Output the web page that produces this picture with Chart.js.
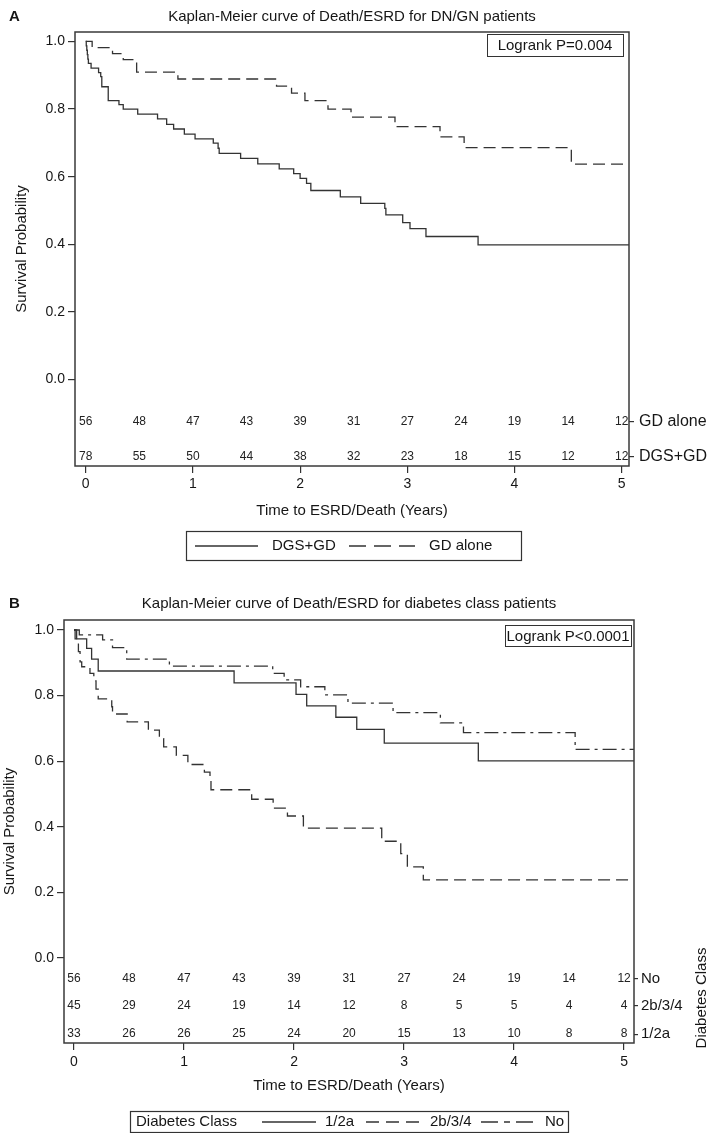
<!DOCTYPE html>
<html>
<head>
<meta charset="utf-8">
<script src="https://cdn.jsdelivr.net/npm/chart.js@4.4.0/dist/chart.umd.min.js"></script>
<style>
  html, body { margin: 0; padding: 0; background: #fff; }
  .panel { position: absolute; left: 0; width: 714px; }
  #wrapA { top: 0; height: 575px; }
  #wrapB { top: 575px; height: 558px; }
</style>
</head>
<body>
<div class="panel" id="wrapA"><canvas id="kmA"></canvas></div>
<div class="panel" id="wrapB"><canvas id="kmB"></canvas></div>
<script>
// ---- data ----
// panel A: DGS+GD (solid) vs GD alone (dashed)
const dgsT = [0, 0.005, 0.01, 0.015, 0.02, 0.025, 0.05, 0.12, 0.14, 0.15, 0.21, 0.31, 0.35, 0.485, 0.67, 0.755,
  0.82, 0.92, 1.02, 1.19, 1.235, 1.245, 1.445, 1.605, 1.805, 1.94, 2.0, 2.06, 2.10, 2.375, 2.565, 2.79, 2.80,
  2.957, 3.025, 3.174, 3.66, 5.07];
const dgsS = [1.0, 0.987, 0.974, 0.961, 0.948, 0.935, 0.921, 0.908, 0.896, 0.866, 0.825, 0.813, 0.800, 0.785,
  0.771, 0.755, 0.741, 0.726, 0.712, 0.699, 0.684, 0.669, 0.654, 0.638, 0.623, 0.609, 0.595, 0.580, 0.559,
  0.540, 0.521, 0.506, 0.487, 0.464, 0.446, 0.423, 0.398, 0.398];
const gdT = [0, 0.06, 0.25, 0.35, 0.475, 0.86, 1.78, 1.92, 2.045, 2.26, 2.475, 2.885, 3.305, 3.53, 4.53, 5.07];
const gdS = [1.0, 0.982, 0.964, 0.946, 0.909, 0.889, 0.868, 0.847, 0.825, 0.800, 0.776, 0.748, 0.718, 0.686, 0.637, 0.637];

// panel B: diabetes class 1/2a (solid), 2b/3/4 (dashed), No (dash-dot)
const c12aT = [0, 0.01, 0.115, 0.16, 0.22, 1.455, 2.018, 2.115, 2.38, 2.57, 2.82, 3.675, 5.09];
const c12aS = [1.0, 0.973, 0.944, 0.911, 0.875, 0.839, 0.804, 0.769, 0.734, 0.697, 0.655, 0.601, 0.601];
const c2bT = [0, 0.024, 0.04, 0.055, 0.07, 0.145, 0.18, 0.20, 0.22, 0.343, 0.35, 0.483, 0.676, 0.776, 0.815,
  0.93, 1.035, 1.185, 1.236, 1.245, 1.615, 1.81, 1.94, 2.085, 2.797, 2.97, 3.03, 3.175, 5.09];
const c2bS = [1.0, 0.970, 0.934, 0.903, 0.888, 0.868, 0.845, 0.820, 0.790, 0.766, 0.744, 0.720, 0.695, 0.669,
  0.644, 0.618, 0.590, 0.567, 0.543, 0.513, 0.484, 0.457, 0.433, 0.396, 0.356, 0.318, 0.278, 0.238, 0.238];
const noT = [0, 0.048, 0.26, 0.35, 0.479, 0.867, 1.806, 1.91, 2.06, 2.28, 2.49, 2.9, 3.33, 3.54, 4.555, 5.09];
const noS = [1.0, 0.985, 0.970, 0.946, 0.911, 0.890, 0.868, 0.848, 0.827, 0.802, 0.777, 0.748, 0.717, 0.687, 0.636, 0.636];

// numbers at risk, every half year
const riskTimes = [0, 0.5, 1, 1.5, 2, 2.5, 3, 3.5, 4, 4.5, 5];
const riskGdAlone = [56, 48, 47, 43, 39, 31, 27, 24, 19, 14, 12];
const riskDgsGd = [78, 55, 50, 44, 38, 32, 23, 18, 15, 12, 12];
const riskNo = [56, 48, 47, 43, 39, 31, 27, 24, 19, 14, 12];
const risk2b34 = [45, 29, 24, 19, 14, 12, 8, 5, 5, 4, 4];
const risk12a = [33, 26, 26, 25, 24, 20, 15, 13, 10, 8, 8];

const xTicks = [0, 1, 2, 3, 4, 5];
const yTicks = [0, 0.2, 0.4, 0.6, 0.8, 1.0];

// ---- drawing ----
const INK = "#333";
const TXT = "#161616";
const FONT = "'Liberation Sans', Arial, sans-serif";
Chart.defaults.font.family = FONT;
Chart.defaults.color = TXT;

const SOLID = [], DASH = [12, 6], DASHDOT = [14, 5, 3, 5];

const kmLine = (t, s, dash) => ({
  data: t.map((x, i) => ({ x, y: s[i] })),
  stepped: true, borderColor: INK, borderWidth: 1.3, borderDash: dash,
  pointRadius: 0, fill: false
});

// frame, titles, logrank box, numbers at risk and the boxed legend
const panelDecor = p => ({
  id: "panelDecor",
  afterDraw(chart) {
    const { ctx, chartArea: a, scales: { x, y } } = chart;
    ctx.save();
    ctx.setLineDash([]);
    ctx.strokeStyle = "#3a3a3a"; ctx.lineWidth = 1.5;
    ctx.strokeRect(a.left, a.top, a.right - a.left, a.bottom - a.top);

    ctx.fillStyle = TXT; ctx.textBaseline = "middle";
    ctx.font = `bold 15px ${FONT}`; ctx.textAlign = "left";
    ctx.fillText(p.letter, 9, p.titleY);
    ctx.font = `15px ${FONT}`; ctx.textAlign = "center";
    ctx.fillText(p.title, p.titleX, p.titleY);

    const b = p.logrank;
    ctx.lineWidth = 1; ctx.strokeStyle = INK;
    ctx.strokeRect(b.x + 0.5, b.y + 0.5, b.w, b.h);
    ctx.font = `15px ${FONT}`;
    ctx.fillText(b.text, b.x + b.w / 2, b.y + b.h / 2 + 1);

    ctx.font = `12px ${FONT}`; ctx.fillStyle = "#222";
    p.rows.forEach(r => r.n.forEach((n, i) =>
      ctx.fillText(n, x.getPixelForValue(riskTimes[i]), y.getPixelForValue(r.y))));

    if (p.sideTitle) {
      ctx.save();
      ctx.translate(p.sideTitle.x, p.sideTitle.y); ctx.rotate(-Math.PI / 2);
      ctx.font = `15px ${FONT}`; ctx.fillStyle = TXT;
      ctx.fillText(p.sideTitle.text, 0, 0);
      ctx.restore();
    }

    const L = p.legend;
    ctx.lineWidth = 1.2; ctx.strokeStyle = INK;
    ctx.strokeRect(L.x + 0.5, L.y + 0.5, L.w, L.h);
    const my = L.y + L.h / 2 + 0.5;
    ctx.font = `15px ${FONT}`; ctx.fillStyle = TXT; ctx.textAlign = "left";
    if (L.heading) ctx.fillText(L.heading, L.x + 6, my);
    L.items.forEach(it => {
      ctx.beginPath(); ctx.setLineDash(it.dash); ctx.lineWidth = 1.6;
      ctx.moveTo(it.x0, my); ctx.lineTo(it.x1, my); ctx.stroke();
      ctx.setLineDash([]);
      ctx.fillText(it.label, it.tx, my);
    });
    ctx.restore();
  }
});

function drawPanel(id, p) {
  const axisFont = { size: 14, family: FONT };
  const titleFont = { size: 15, family: FONT };
  new Chart(document.getElementById(id), {
    type: "line",
    data: { datasets: p.datasets },
    options: {
      responsive: true, maintainAspectRatio: false, animation: false,
      layout: { padding: { top: p.top, bottom: p.bottom, left: 0, right: 0 } },
      plugins: { legend: { display: false }, tooltip: { enabled: false } },
      scales: {
        x: {
          type: "linear", min: p.xMin, max: p.xMax,
          afterBuildTicks: s => { s.ticks = xTicks.map(v => ({ value: v })); },
          afterFit: s => { s.height = p.xH; },
          border: { display: false },
          grid: { drawOnChartArea: false, tickLength: 7, color: INK, lineWidth: 1.2 },
          ticks: { padding: p.xTickPad, font: axisFont, callback: v => v },
          title: { display: true, text: "Time to ESRD/Death (Years)", font: titleFont,
                   padding: { top: 0, bottom: 6 } }
        },
        y: {
          min: p.yMin, max: p.yMax,
          afterBuildTicks: s => { s.ticks = yTicks.map(v => ({ value: v })); },
          afterFit: s => { s.width = p.leftW; },
          border: { display: false },
          grid: { drawOnChartArea: false, tickLength: 7, color: INK, lineWidth: 1.2 },
          ticks: { padding: 3, font: axisFont, callback: v => v.toFixed(1) },
          title: { display: true, text: "Survival Probability", font: titleFont,
                   padding: { top: p.yTitlePad, bottom: 0 } }
        },
        y2: {
          position: "right", min: p.yMin, max: p.yMax,
          afterBuildTicks: s => { s.ticks = p.rows.map(r => ({ value: r.y })); },
          afterFit: s => { s.width = p.rightW; },
          border: { display: false },
          grid: { drawOnChartArea: false, tickLength: p.sideTick, color: INK, lineWidth: 1.2 },
          ticks: { padding: p.sidePad, autoSkip: false, font: { size: p.sideFont, family: FONT },
                   callback: (v, i) => p.rows[i].label }
        }
      }
    },
    plugins: [panelDecor(p)]
  });
}

drawPanel("kmA", {
  letter: "A", title: "Kaplan-Meier curve of Death/ESRD for DN/GN patients", titleX: 352, titleY: 17,
  datasets: [kmLine(dgsT, dgsS, SOLID), kmLine(gdT, gdS, DASH)],
  top: 32, bottom: 49, xH: 60, xTickPad: 3, leftW: 75, rightW: 85, yTitlePad: 13,
  sideTick: 5, sidePad: 5, sideFont: 16,
  xMin: -0.1, xMax: 5.068, yMin: -0.256, yMax: 1.028,
  rows: [{ y: -0.228, label: "DGS+GD", n: riskDgsGd }, { y: -0.126, label: "GD alone", n: riskGdAlone }],
  logrank: { x: 487, y: 34, w: 136, h: 22, text: "Logrank P=0.004" },
  legend: { x: 186, y: 531, w: 335, h: 29, items: [
    { x0: 195, x1: 258, dash: SOLID, label: "DGS+GD", tx: 272 },
    { x0: 349, x1: 415, dash: [17, 8], label: "GD alone", tx: 429 }] }
});

drawPanel("kmB", {
  letter: "B", title: "Kaplan-Meier curve of Death/ESRD for diabetes class patients", titleX: 349, titleY: 29,
  datasets: [kmLine(c12aT, c12aS, SOLID), kmLine(c2bT, c2bS, DASH), kmLine(noT, noS, DASHDOT)],
  top: 45, bottom: 32, xH: 58, xTickPad: 4, leftW: 64, rightW: 80, yTitlePad: 1,
  sideTick: 4, sidePad: 3, sideFont: 15,
  xMin: -0.091, xMax: 5.09, yMin: -0.259, yMax: 1.0305,
  rows: [{ y: -0.232, label: "1/2a", n: risk12a }, { y: -0.146, label: "2b/3/4", n: risk2b34 },
         { y: -0.064, label: "No", n: riskNo }],
  logrank: { x: 505, y: 50, w: 126, h: 21, text: "Logrank P<0.0001" },
  sideTitle: { x: 702, y: 423, text: "Diabetes Class" },
  legend: { x: 130, y: 536, w: 438, h: 21, heading: "Diabetes Class", items: [
    { x0: 262, x1: 316, dash: SOLID, label: "1/2a", tx: 325 },
    { x0: 366, x1: 419, dash: [13, 7], label: "2b/3/4", tx: 430 },
    { x0: 481, x1: 534, dash: [17, 6, 6, 6], label: "No", tx: 545 }] }
});
</script>
</body>
</html>
